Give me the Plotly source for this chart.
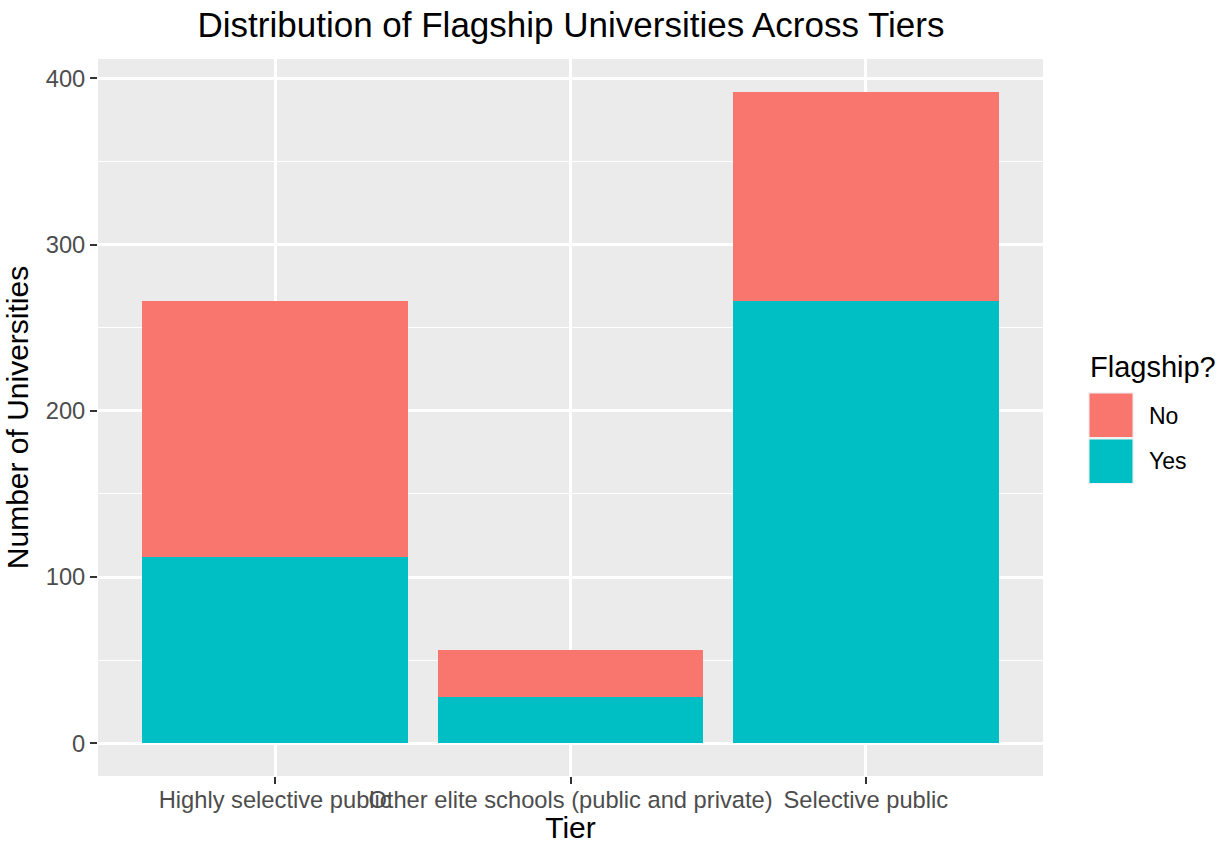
import plotly.graph_objects as go

tiers = ["Highly selective public", "Other elite schools (public and private)", "Selective public"]
yes_counts = [112, 28, 266]
no_counts = [154, 28, 126]
legend_labels = ["No", "Yes"]
colors = {"No": "#F8766D", "Yes": "#00BFC4"}

W, H = 1225, 844
L, R, T, B = 98, 1043, 59, 776  # panel pixel box

def px(x):
    return (x - L) / (R - L)

def py(y):
    return (B - y) / (B - T)

fig = go.Figure()
fig.add_trace(go.Bar(x=tiers, y=yes_counts, name="Yes", marker=dict(color=colors["Yes"], line=dict(width=0)),
                     width=0.9, showlegend=False))
fig.add_trace(go.Bar(x=tiers, y=no_counts, name="No", marker=dict(color=colors["No"], line=dict(width=0)),
                     width=0.9, showlegend=False))

font_family = "Liberation Sans, Arial, sans-serif"

fig.update_layout(
    width=W, height=H,
    barmode="stack",
    paper_bgcolor="white",
    plot_bgcolor="#EBEBEB",
    margin=dict(l=L, r=W - R, t=T, b=H - B, pad=0, autoexpand=False),
    font=dict(family=font_family, color="black"),
    title=dict(text="Distribution of Flagship Universities Across Tiers", x=571 / W, xref="container",
               xanchor="center", y=1 - 25 / H, yref="container", yanchor="middle",
               font=dict(size=35, color="black")),
    xaxis=dict(
        type="category", range=[-0.6, 2.6], showgrid=True, gridcolor="white", gridwidth=2.6,
        ticks="outside", ticklen=7, tickcolor="#333333", tickwidth=2.4, tickangle=0,
        ticklabelstandoff=-4, automargin=False,
        tickfont=dict(size=23.7, color="#4D4D4D"), zeroline=False, showline=False,
        title=dict(text="Tier", font=dict(size=30, color="black"), standoff=2),
    ),
    yaxis=dict(
        range=[-19.6, 411.6], tickvals=[0, 100, 200, 300, 400], showgrid=True, gridcolor="white", gridwidth=2.6,
        minor=dict(tickvals=[50, 150, 250, 350], showgrid=True, gridcolor="white", gridwidth=1.3, ticks=""),
        ticks="outside", ticklen=7, tickcolor="#333333", tickwidth=2.4, automargin=False,
        tickfont=dict(size=23.7, color="#4D4D4D"), zeroline=False, showline=False,
        title=dict(text="Number of Universities", font=dict(size=30, color="black"), standoff=8),
    ),
)

# Custom ggplot-style legend
shapes = []
annotations = []
annotations.append(dict(text="Flagship?", x=px(1088), y=py(367), xref="paper", yref="paper",
                        xanchor="left", yanchor="middle", showarrow=False,
                        font=dict(size=29, color="black", family=font_family)))
shapes.append(dict(type="rect", xref="paper", yref="paper", x0=px(1088), x1=px(1134), y0=py(484), y1=py(392),
                   fillcolor="#F2F2F2", line=dict(width=0), layer="above"))
key_tops = [393.5, 439.5]
for lab, top in zip(legend_labels, key_tops):
    shapes.append(dict(type="rect", xref="paper", yref="paper", x0=px(1089.5), x1=px(1132.5),
                       y0=py(top + 43.5), y1=py(top), fillcolor=colors[lab], line=dict(width=0), layer="above"))
    annotations.append(dict(text=lab, x=px(1147), y=py(top + 22), xref="paper", yref="paper",
                            xanchor="left", yanchor="middle", showarrow=False,
                            font=dict(size=23, color="black", family=font_family)))
fig.update_layout(shapes=shapes, annotations=annotations)

fig.write_html("out.html", config={"displayModeBar": False},
               post_script="document.body.style.margin='0px';")
